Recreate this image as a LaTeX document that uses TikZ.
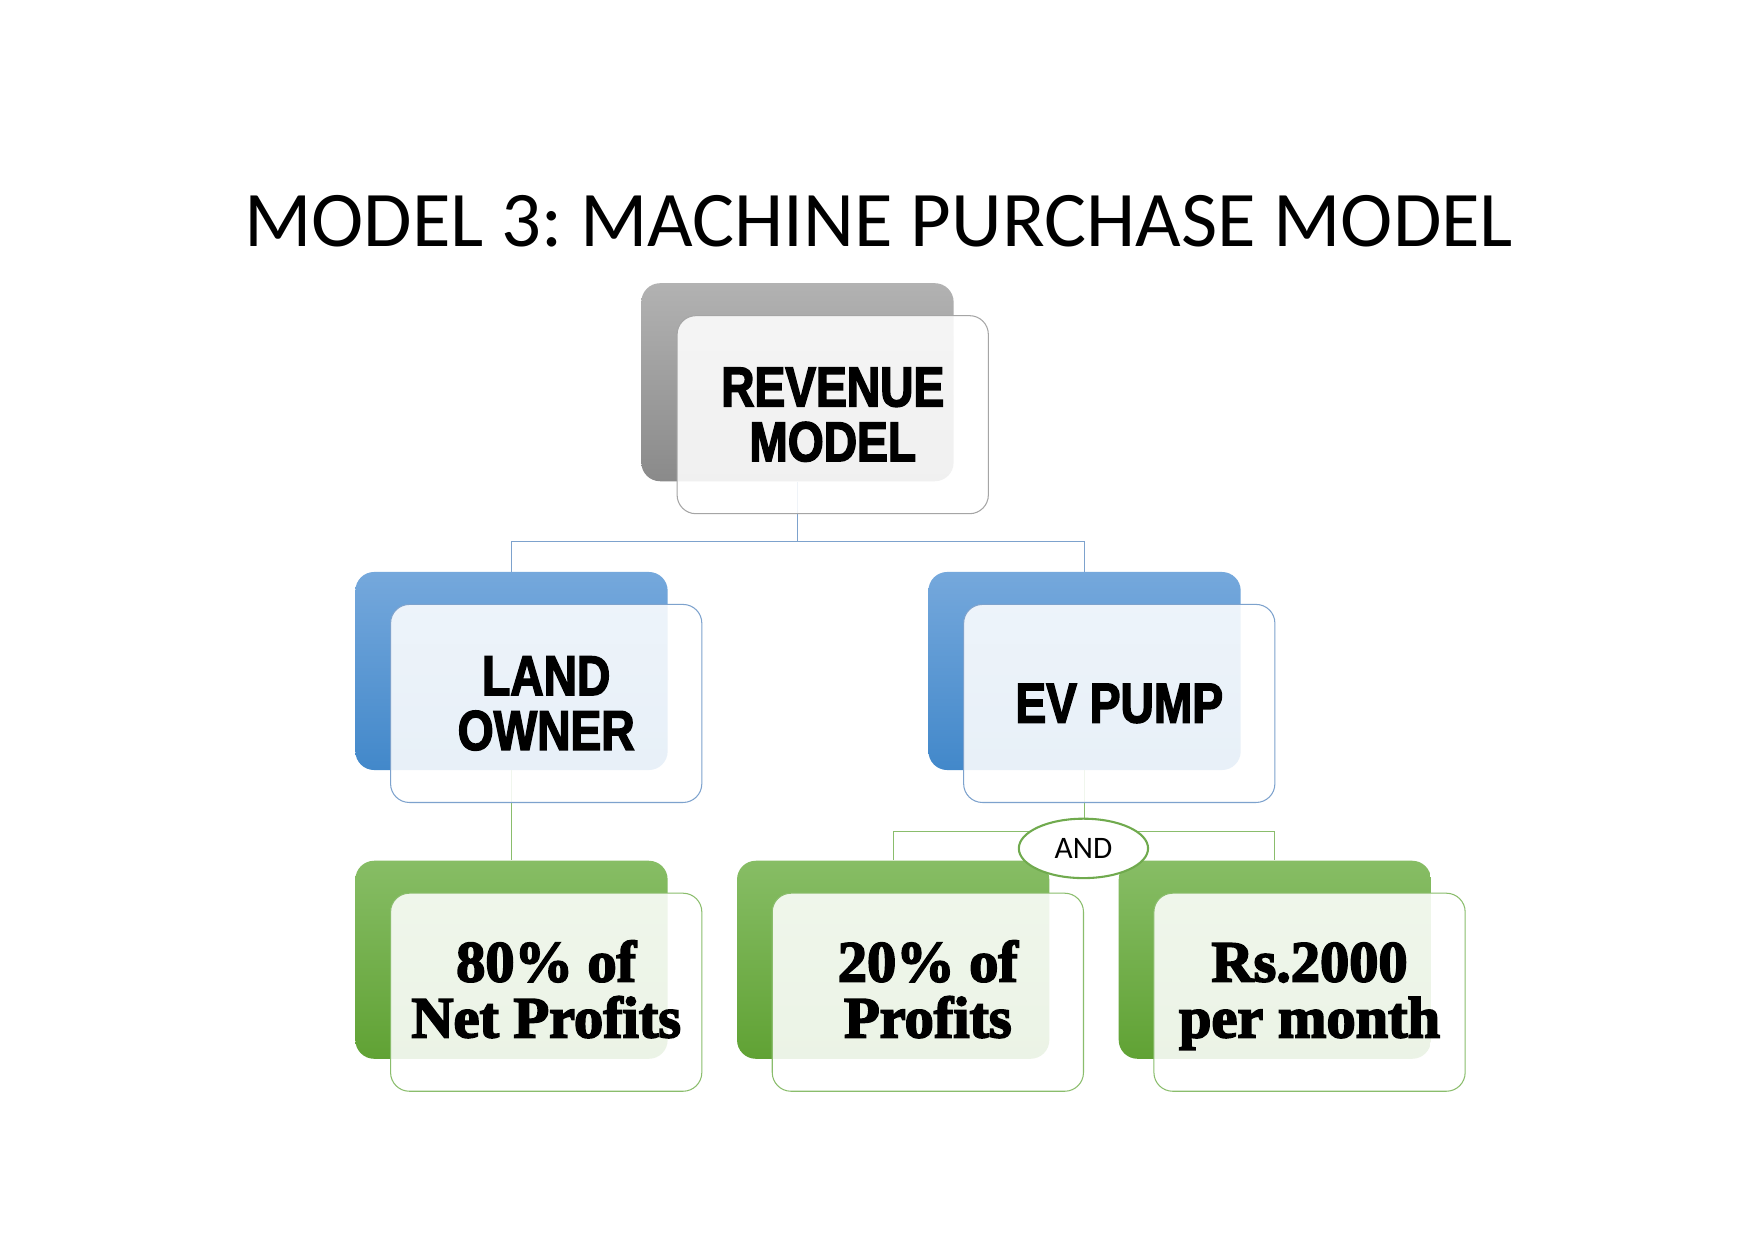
\documentclass[tikz,border=0pt]{standalone}
\usepackage{fontspec}
\usetikzlibrary{shapes.geometric}
\newfontfamily\titlefont{Carlito}
\newfontfamily\capfont{Liberation Sans}[FakeStretch=0.82,BoldFeatures={FakeBold=2.5}]
\newfontfamily\serfont{Liberation Serif}[BoldFeatures={FakeBold=3}]
\newcommand\bodylines[2]{\rule{0pt}{22.5pt}#1\\\vphantom{fp}#2}
\definecolor{greytop}{RGB}{178,178,178}
\definecolor{greybot}{RGB}{138,138,138}
\definecolor{bluetop}{RGB}{117,168,220}
\definecolor{bluebot}{RGB}{66,136,202}
\definecolor{greentop}{RGB}{135,189,101}
\definecolor{greenbot}{RGB}{96,162,52}
\definecolor{greyline}{RGB}{165,165,165}
\definecolor{blueline}{RGB}{125,162,205}
\definecolor{greenline}{RGB}{138,189,108}
\definecolor{andline}{RGB}{112,170,78}

\begin{document}
\frenchspacing
\begin{tikzpicture}[x=0.5369pt,y=0.5369pt,yscale=-1,xscale=1,
	back/.style={rounded corners=9pt,minimum width=149.8pt,minimum height=95pt,inner sep=0pt},
	front/.style={draw=#1,line width=0.5pt,rounded corners=9pt,minimum width=149.3pt,minimum height=95pt,inner sep=0pt,fill=white,fill opacity=0.88,text opacity=1,text=black,align=center},
	headtxt/.style={font=\capfont\bfseries\fontsize{27}{26.3}\selectfont},
	bodytxt/.style={font=\serfont\bfseries\fontsize{28}{26.8}\selectfont},
	link/.style={line width=0.6pt}]
	\fill[white] (0,0) rectangle (1568,1108.7);
	\useasboundingbox (0,0) rectangle (1568,1108.7);
	\node[anchor=base] (title) at (785,220) {\titlefont\fontsize{37.8}{45}\selectfont MODEL 3: MACHINE PURCHASE MODEL};
	\node[back,top color=greytop,bottom color=greybot] (revb) at (712.5,341.5) {};
	\node[back,top color=bluetop,bottom color=bluebot] (landb) at (457,599.5) {};
	\node[back,top color=bluetop,bottom color=bluebot] (evb) at (969,599.5) {};
	\node[back,top color=greentop,bottom color=greenbot] (netb) at (457,857.5) {};
	\node[back,top color=greentop,bottom color=greenbot] (pctb) at (798,857.5) {};
	\node[back,top color=greentop,bottom color=greenbot] (rsb) at (1139,857.5) {};
	\coordinate (revj) at (712.5,484);
	\coordinate (evj) at (969,743);
	\draw[link,blueline] (revb.south) -- (revj) -| (landb.north);
	\draw[link,blueline] (revj) -| (evb.north);
	\draw[link,greenline] (landb.south) -- (netb.north);
	\draw[link,greenline] (evb.south) -- (evj) -| (pctb.north);
	\draw[link,greenline] (evj) -| (rsb.north);
	\node[front=greyline,headtxt] (revf) at (744,370.5) {REVENUE\\MODEL};
	\node[front=blueline,headtxt] (landf) at (488,628.5) {LAND\\OWNER};
	\node[front=blueline,headtxt] (evf) at (1000,628.5) {EV PUMP};
	\node[front=greenline,bodytxt] (netf) at (488,886.5) {\bodylines{80\% of}{Net Profits}};
	\node[front=greenline,bodytxt] (pctf) at (829,886.5) {\bodylines{20\% of}{Profits}};
	\node[front=greenline,bodytxt] (rsf) at (1170,886.5) {\bodylines{Rs.2000}{per month}};
	\node[ellipse,draw=andline,line width=1pt,fill=white,minimum width=62pt,minimum height=28.5pt,inner sep=0pt,font=\titlefont\fontsize{15}{18}\selectfont] (and) at (968,758) {AND};
\end{tikzpicture}
\end{document}
